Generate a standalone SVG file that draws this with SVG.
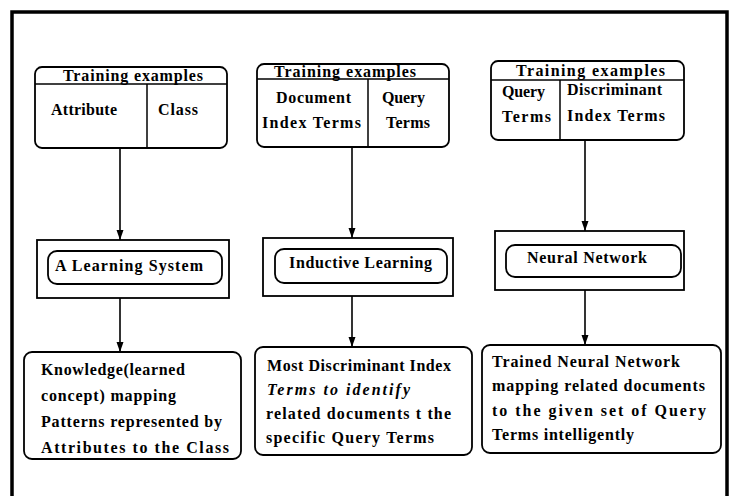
<svg xmlns="http://www.w3.org/2000/svg" width="731" height="496" viewBox="0 0 731 496">
<defs>
<marker id="ah" markerUnits="userSpaceOnUse" markerWidth="10" markerHeight="10" viewBox="0 0 10 10" refX="10" refY="5" orient="auto">
<path d="M0,1.5 L10,5 L0,8.5 Z" fill="#000"/>
</marker>
<style>
.t{font-family:"Liberation Serif","Times New Roman",serif;font-size:16px;font-weight:bold;fill:#000}
.i{font-style:italic}
.b{fill:#fff;stroke:#000;stroke-width:1.8}
.l{stroke:#000;stroke-width:1.5;fill:none}
.c{stroke:#000;stroke-width:1.6;fill:none;marker-end:url(#ah)}
</style>
</defs>
<rect x="0" y="0" width="731" height="496" fill="#fff"/>
<rect x="12" y="12" width="715" height="500" fill="none" stroke="#000" stroke-width="3.5"/>

<g id="connectors">
<line class="c" x1="120" y1="148" x2="120" y2="240"/>
<line class="c" x1="120" y1="298" x2="120" y2="352"/>
<line class="c" x1="352" y1="147" x2="352" y2="238"/>
<line class="c" x1="352" y1="296" x2="352" y2="347"/>
<line class="c" x1="585" y1="140" x2="585" y2="231"/>
<line class="c" x1="585" y1="290" x2="585" y2="345"/>
</g>

<g id="train1">
<rect class="b" x="35" y="67" width="192" height="81" rx="7"/>
<line class="l" x1="35" y1="84" x2="227" y2="84"/>
<line class="l" x1="147" y1="84" x2="147" y2="148"/>
<text class="t" x="63" y="81" textLength="140" lengthAdjust="spacing">Training examples</text>
<text class="t" x="51" y="115" textLength="66" lengthAdjust="spacing">Attribute</text>
<text class="t" x="158" y="115" textLength="40" lengthAdjust="spacing">Class</text>
</g>

<g id="train2">
<rect class="b" x="257" y="64" width="192" height="83" rx="7"/>
<line class="l" x1="257" y1="79" x2="449" y2="79"/>
<line class="l" x1="368" y1="79" x2="368" y2="147"/>
<text class="t" x="274" y="77" textLength="142" lengthAdjust="spacing">Training examples</text>
<text class="t" x="276" y="103" textLength="75" lengthAdjust="spacing">Document</text>
<text class="t" x="262" y="128" textLength="99" lengthAdjust="spacing">Index Terms</text>
<text class="t" x="382" y="103" textLength="43" lengthAdjust="spacing">Query</text>
<text class="t" x="386" y="128" textLength="44" lengthAdjust="spacing">Terms</text>
</g>

<g id="train3">
<rect class="b" x="491" y="61" width="193" height="79" rx="7"/>
<line class="l" x1="491" y1="80" x2="684" y2="80"/>
<line class="l" x1="560" y1="80" x2="560" y2="140"/>
<text class="t" x="516" y="76" textLength="149" lengthAdjust="spacing">Training examples</text>
<text class="t" x="502" y="97" textLength="43" lengthAdjust="spacing">Query</text>
<text class="t" x="502" y="122" textLength="49" lengthAdjust="spacing">Terms</text>
<text class="t" x="567" y="95" textLength="95" lengthAdjust="spacing">Discriminant</text>
<text class="t" x="567" y="121" textLength="98" lengthAdjust="spacing">Index Terms</text>
</g>

<g id="learn1">
<rect class="b" x="37" y="240" width="192" height="58"/>
<rect class="b" x="48" y="251" width="174" height="33" rx="9"/>
<text class="t" x="55" y="271" textLength="148" lengthAdjust="spacing">A Learning System</text>
</g>

<g id="learn2">
<rect class="b" x="263" y="238" width="190" height="58"/>
<rect class="b" x="275" y="249" width="172" height="34" rx="9"/>
<text class="t" x="289" y="268" textLength="143" lengthAdjust="spacing">Inductive Learning</text>
</g>

<g id="learn3">
<rect class="b" x="495" y="231" width="189" height="59"/>
<rect class="b" x="506" y="245" width="175" height="32" rx="9"/>
<text class="t" x="527" y="263" textLength="120" lengthAdjust="spacing">Neural Network</text>
</g>

<g id="out1">
<rect class="b" x="24" y="352" width="217" height="107" rx="8"/>
<text class="t" x="41" y="375" textLength="144" lengthAdjust="spacing">Knowledge(learned</text>
<text class="t" x="41" y="401" textLength="135" lengthAdjust="spacing">concept) mapping</text>
<text class="t" x="41" y="427" textLength="181" lengthAdjust="spacing">Patterns represented by</text>
<text class="t" x="41" y="453" textLength="188" lengthAdjust="spacing">Attributes to the Class</text>
</g>

<g id="out2">
<rect class="b" x="255" y="347" width="217" height="108" rx="8"/>
<text class="t" x="267" y="371" textLength="184" lengthAdjust="spacing">Most Discriminant Index</text>
<text class="t i" x="267" y="395" textLength="143" lengthAdjust="spacing">Terms to identify</text>
<text class="t" x="266" y="419" textLength="185" lengthAdjust="spacing">related documents t the</text>
<text class="t" x="266" y="443" textLength="168" lengthAdjust="spacing">specific Query Terms</text>
</g>

<g id="out3">
<rect class="b" x="482" y="345" width="239" height="108" rx="8"/>
<text class="t" x="492" y="367" textLength="188" lengthAdjust="spacing">Trained Neural Network</text>
<text class="t" x="492" y="391" textLength="213" lengthAdjust="spacing">mapping related documents</text>
<text class="t" x="492" y="416" textLength="214" lengthAdjust="spacing">to the given set of Query</text>
<text class="t" x="492" y="440" textLength="142" lengthAdjust="spacing">Terms intelligently</text>
</g>
</svg>
